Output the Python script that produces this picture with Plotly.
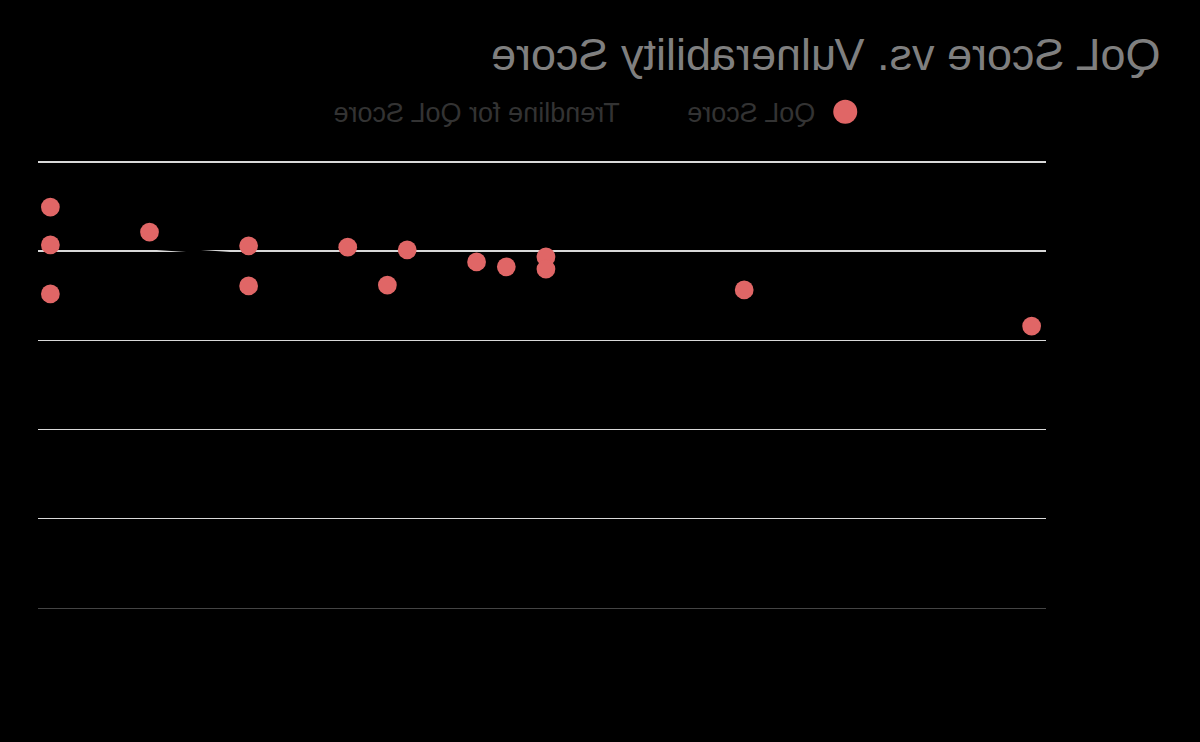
import numpy as np
import plotly.graph_objects as go

# ---- data ----
vulnerability = [10.9, 10.9, 10.9, 9.9, 8.9, 8.9, 7.9, 7.5, 7.3, 6.6, 6.3, 5.9, 5.9, 3.9, 1.0]
qol = [89.9, 81.4, 70.4, 84.3, 81.2, 72.2, 80.9, 72.4, 80.3, 77.6, 76.5, 78.7, 76.0, 71.3, 63.2]
y_ticks = [0, 20, 40, 60, 80, 100]
title_text = "QoL Score vs. Vulnerability Score"
series_name = "QoL Score"
trend_name = "Trendline for QoL Score"

# least-squares trendline from the points
slope, intercept = np.polyfit(vulnerability, qol, 1)
trend_x = [min(vulnerability), max(vulnerability)]
trend_y = [slope * v + intercept for v in trend_x]

font_family = "Arial, Liberation Sans, sans-serif"
point_color = "#E06666"

fig = go.Figure()
# trendline drawn first so the points sit on top of it
fig.add_trace(go.Scatter(
    x=trend_x, y=trend_y, mode="lines", name=trend_name,
    line=dict(color="#000000", width=2), legendrank=2,
))
fig.add_trace(go.Scatter(
    x=vulnerability, y=qol, mode="markers", name=series_name,
    marker=dict(color=point_color, size=12.5), showlegend=False,
))
# legend entry for the points (larger legend symbol, as in the reference)
fig.add_trace(go.Scatter(
    x=[None], y=[None], mode="markers", name=series_name,
    marker=dict(color=point_color, size=16), legendrank=1, hoverinfo="skip",
))

fig.update_layout(
    width=800, height=495,
    paper_bgcolor="#000000", plot_bgcolor="#000000",
    margin=dict(l=103, r=25, t=106, b=90),
    font=dict(family=font_family, color="#000000"),
    title=dict(text=title_text, x=0.033, xanchor="left", xref="container",
               y=0.927, yanchor="middle",
               font=dict(size=30, color="#7F7F7F", family=font_family)),
    legend=dict(orientation="h", x=0.5, xanchor="center", xref="container",
                y=0.849, yanchor="middle", yref="container",
                font=dict(size=18, color="#333333", family=font_family),
                bgcolor="rgba(0,0,0,0)"),
    showlegend=True,
)
fig.update_xaxes(range=[0.86, 11.03], showgrid=False, zeroline=False,
                 showline=True, linecolor="#444444", linewidth=1,
                 tickfont=dict(color="#000000"), automargin=False)
fig.update_yaxes(range=[0, 100.7], tickvals=y_ticks, showgrid=True,
                 gridcolor="#D9D9D9", gridwidth=1, zeroline=False,
                 tickfont=dict(color="#000000"), automargin=False)

post = (
    "var gd=document.getElementById('{plot_id}');"
    "document.body.style.margin='0';"
    "document.body.style.background='#000';"
    "document.body.style.overflow='hidden';"
    "gd.style.width='800px';gd.style.height='495px';"
    "gd.style.transformOrigin='0 0';"
    "gd.style.transform='matrix(-1.5,0,0,1.5,1200,0)';"
)
fig.write_html("out.html", post_script=post, config={"displayModeBar": False})
